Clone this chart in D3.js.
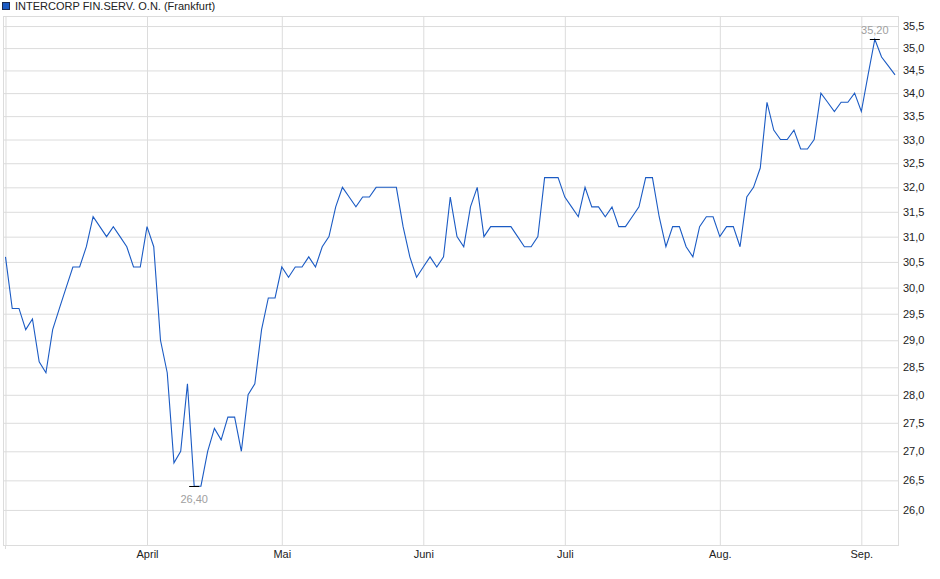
<!DOCTYPE html>
<html>
<head>
<meta charset="utf-8">
<script src="https://cdn.jsdelivr.net/npm/d3@7"></script>
<style>
  body { margin: 0; background: #fff; }
  text { font-family: "Liberation Sans", Arial, sans-serif; }
</style>
</head>
<body>
<div id="chart"></div>
<script>
// Chart data (trading days, March to early September)
const title = "INTERCORP FIN.SERV. O.N. (Frankfurt)";
const prices = [
  30.6, 29.6, 29.6, 29.2, 29.4, 28.6, 28.4, 29.2, 29.6, 30.0, 30.4, 30.4, 30.8, 31.4,
  31.2, 31.0, 31.2, 31.0, 30.8, 30.4, 30.4, 31.2, 30.8, 29.0, 28.4, 26.8, 27.0, 28.2,
  26.4, 26.4, 27.0, 27.4, 27.2, 27.6, 27.6, 27.0, 28.0, 28.2, 29.2, 29.8, 29.8, 30.4,
  30.2, 30.4, 30.4, 30.6, 30.4, 30.8, 31.0, 31.6, 32.0, 31.8, 31.6, 31.8, 31.8,
  32.0, 32.0, 32.0, 32.0, 31.2, 30.6, 30.2, 30.4, 30.6, 30.4, 30.6, 31.8, 31.0, 30.8,
  31.6, 32.0, 31.0, 31.2, 31.2, 31.2, 31.2, 31.0, 30.8, 30.8, 31.0, 32.2, 32.2,
  32.2, 31.8, 31.6, 31.4, 32.0, 31.6, 31.6, 31.4, 31.6, 31.2, 31.2, 31.4, 31.6, 32.2,
  32.2, 31.4, 30.8, 31.2, 31.2, 30.8, 30.6, 31.2, 31.4, 31.4, 31.0, 31.2,
  31.2, 30.8, 31.8, 32.0, 32.4, 33.8, 33.2, 33.0, 33.0, 33.2, 32.8, 32.8, 33.0, 34.0,
  33.8, 33.6, 33.8, 33.8, 34.0, 33.6, 34.4, 35.2, 34.8, 34.6, 34.4
];
const monthIndex = [0, 21, 41, 62, 83, 106, 127];
const monthLabels = ["", "April", "Mai", "Juni", "Juli", "Aug.", "Sep."];
const yTicks = [26.0, 26.5, 27.0, 27.5, 28.0, 28.5, 29.0, 29.5, 30.0, 30.5,
                31.0, 31.5, 32.0, 32.5, 33.0, 33.5, 34.0, 34.5, 35.0, 35.5];

// Dimensions
const owidth = 940, oheight = 579;
const plot = { left: 3, right: 898, top: 16, bottom: 545 };
const gridColor = "#dcdcdc";
const lineColor = "#1b5bc4";

const svg = d3.select("#chart").append("svg")
  .attr("width", owidth)
  .attr("height", oheight);

svg.append("rect")
  .attr("width", "100%")
  .attr("height", "100%")
  .style("fill", "#fff");

// Scales: x by trading day index, y logarithmic
const x = d3.scaleLinear()
  .domain([-0.37, 132.44])
  .range([plot.left, plot.right]);
const y = d3.scaleLog()
  .domain([25.42, 35.73])
  .range([plot.bottom, plot.top]);

const fmt = d => d3.format(".1f")(d).replace(".", ",");

// Horizontal grid + right axis labels
const yAxis = d3.axisRight(y)
  .tickValues(yTicks)
  .tickFormat(fmt)
  .tickSize(-(plot.right - plot.left))
  .tickPadding(5);
const gy = svg.append("g")
  .attr("transform", `translate(${plot.right},0)`)
  .call(yAxis);
gy.select(".domain").remove();
gy.selectAll("line").attr("stroke", gridColor);
gy.selectAll("text")
  .attr("fill", "#222")
  .style("font-size", "11px");

// Vertical grid + month labels
const xAxis = d3.axisBottom(x)
  .tickValues(monthIndex)
  .tickFormat((d, i) => monthLabels[i])
  .tickSize(-(plot.bottom - plot.top))
  .tickPadding(5);
const gx = svg.append("g")
  .attr("transform", `translate(0,${plot.bottom})`)
  .call(xAxis);
gx.select(".domain").remove();
gx.selectAll("line").attr("stroke", gridColor);
gx.selectAll("text")
  .attr("fill", "#222")
  .style("font-size", "11px");

// small tick under first grid line
svg.append("line")
  .attr("x1", x(0)).attr("x2", x(0))
  .attr("y1", plot.bottom).attr("y2", plot.bottom + 4)
  .attr("stroke", gridColor);

// Plot frame
svg.append("rect")
  .attr("x", plot.left + 0.5)
  .attr("y", plot.top + 0.5)
  .attr("width", plot.right - plot.left)
  .attr("height", plot.bottom - plot.top)
  .attr("fill", "none")
  .attr("stroke", gridColor);

// Price line
const line = d3.line()
  .x((d, i) => x(i))
  .y(d => y(d));
svg.append("path")
  .datum(prices)
  .attr("d", line)
  .attr("fill", "none")
  .attr("stroke", lineColor)
  .attr("stroke-width", 1.1);

// High / low markers
const hiIdx = d3.maxIndex(prices);
const loIdx = d3.minIndex(prices);
const marks = [
  { i: hiIdx, v: prices[hiIdx], dy: -8 },
  { i: loIdx, v: prices[loIdx], dy: 14 }
];
marks.forEach(m => {
  svg.append("line")
    .attr("x1", x(m.i) - 5).attr("x2", x(m.i) + 5)
    .attr("y1", Math.round(y(m.v)) + 0.5).attr("y2", Math.round(y(m.v)) + 0.5)
    .attr("stroke", "#000");
  svg.append("text")
    .attr("x", x(m.i))
    .attr("y", y(m.v) + m.dy)
    .attr("text-anchor", "middle")
    .attr("dominant-baseline", "middle")
    .style("font-size", "11px")
    .attr("fill", "#a0a0a0")
    .text(d3.format(".2f")(m.v).replace(".", ","));
});

// Legend / title
svg.append("rect")
  .attr("x", 2.5).attr("y", 2.5)
  .attr("width", 7).attr("height", 7)
  .attr("fill", lineColor)
  .attr("stroke", "#1a2a50");
svg.append("text")
  .attr("x", 15)
  .attr("y", 10)
  .style("font-size", "11px")
  .attr("fill", "#222")
  .text(title);
</script>
</body>
</html>
